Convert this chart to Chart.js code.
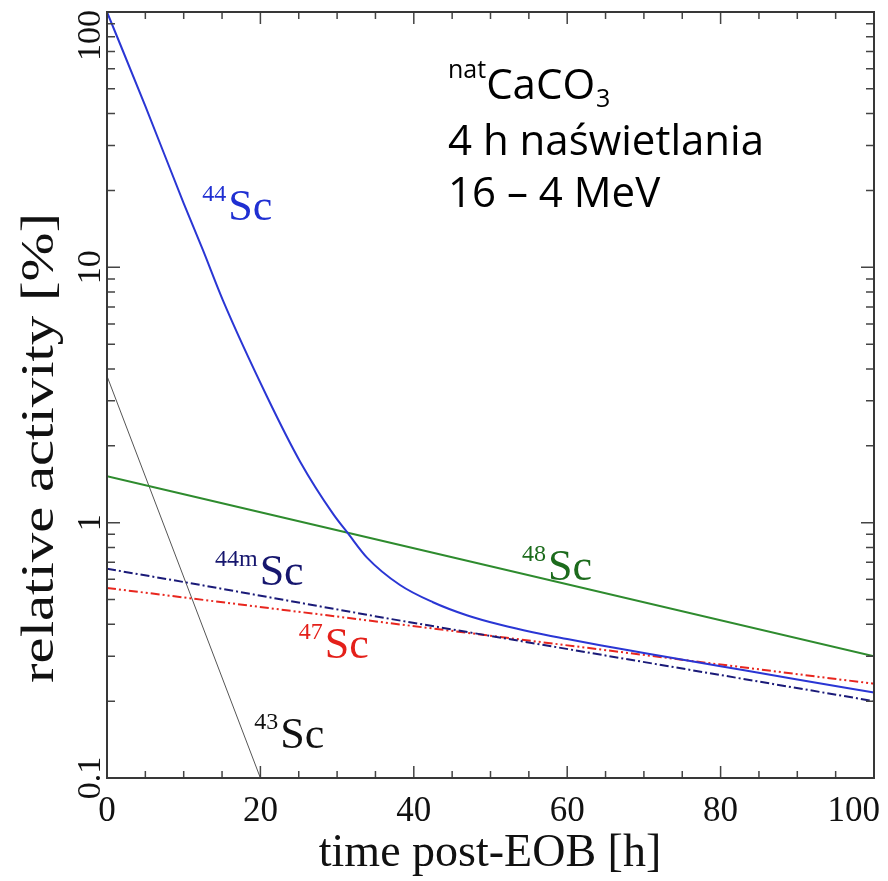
<!DOCTYPE html>
<html>
<head>
<meta charset="utf-8">
<script src="https://cdn.jsdelivr.net/npm/chart.js@4.4.1/dist/chart.umd.min.js"></script>
<style>
  html, body { margin: 0; padding: 0; background: #fff; }
  #wrap { width: 888px; height: 881px; position: relative; }
</style>
</head>
<body>
<div id="wrap"><canvas id="wykres"></canvas></div>
<script>
// czas po EOB [h] i aktywność względna [%]
const czas44 = [0, 5, 10, 12.5, 15.1, 20.9, 25.2, 29.5, 31.4, 33.9, 38.2, 42.5, 46.9, 51.3, 55.5, 60, 64.3, 70, 80, 90, 100];
const akt44 = [100, 42.8, 17.8, 11.7, 7.44, 3.1, 1.73, 1.08, 0.91, 0.73, 0.57, 0.488, 0.434, 0.398, 0.372, 0.35, 0.331, 0.309, 0.274, 0.243, 0.216];

const czas44m = [0, 10.8, 36.9, 100];
const akt44m = [0.66, 0.58, 0.42, 0.2];

const czas47 = [0, 10.8, 36.9, 100];
const akt47 = [0.555, 0.506, 0.404, 0.234];

const czas48 = [0, 12.1, 38.2, 100];
const akt48 = [1.52, 1.25, 0.817, 0.3];

const czas43 = [0, 10.8, 20];
const akt43 = [3.75, 0.53, 0.1];

const xTickWartosci = [0, 20, 40, 60, 80, 100];
const xTickEtykiety = ["0", "20", "40", "60", "80", "100"];
const yTickWartosci = [0.1, 1, 10, 100];
const yTickEtykiety = ["0.1", "1", "10", "100"];

const punkty = (xs, ys) => xs.map((t, i) => ({ x: t, y: ys[i] }));

// etykiety krzywych: izotop, kolor, pozycja "Sc" w jednostkach danych
const etykiety = [
  { sup: "44", t: 15.8, v: 15.3, kolor: "#1f2fd2" },
  { sup: "44m", t: 19.9, v: 0.569, kolor: "#16166e" },
  { sup: "47", t: 28.4, v: 0.294, kolor: "#e4201a" },
  { sup: "48", t: 57.5, v: 0.595, kolor: "#1c6b1c" },
  { sup: "43", t: 22.6, v: 0.131, kolor: "#111" },
];

const serif = "'Liberation Serif', 'Times New Roman', serif";

const dekor = {
  id: "dekor",
  afterDatasetsDraw(chart) {
    const { ctx, chartArea: a, scales: { x, y } } = chart;
    ctx.save();

    // podziałki skierowane do środka, na wszystkich bokach
    ctx.strokeStyle = "#444";
    ctx.lineWidth = 1.5;
    ctx.beginPath();
    for (let t = 0; t <= 100; t += 5) {
      const px = x.getPixelForValue(t);
      const dl = t % 20 === 0 ? 12 : 7;
      ctx.moveTo(px, a.bottom); ctx.lineTo(px, a.bottom - dl);
      ctx.moveTo(px, a.top); ctx.lineTo(px, a.top + dl);
    }
    for (let dek = 0.1; dek < 100; dek *= 10) {
      for (let m = 1; m <= 10; m++) {
        const py = y.getPixelForValue(dek * m);
        const dl = m === 1 || m === 10 ? 13 : 8;
        ctx.moveTo(a.left, py); ctx.lineTo(a.left + dl, py);
        ctx.moveTo(a.right, py); ctx.lineTo(a.right - dl, py);
      }
    }
    ctx.stroke();

    ctx.lineWidth = 2;
    ctx.strokeStyle = "#383838";
    ctx.strokeRect(a.left, a.top, a.right - a.left, a.bottom - a.top);

    // opisy osi x
    ctx.fillStyle = "#111";
    ctx.font = "35px " + serif;
    ctx.textAlign = "center";
    ctx.textBaseline = "alphabetic";
    xTickWartosci.forEach((t, i) => {
      const w = ctx.measureText(xTickEtykiety[i]).width;
      let px = x.getPixelForValue(t);
      px = Math.min(px, a.right - w / 2 + 6);
      ctx.fillText(xTickEtykiety[i], px, 821);
    });

    // opisy osi y (obrócone)
    ctx.font = "34px " + serif;
    yTickWartosci.forEach((v, i) => {
      const w = ctx.measureText(yTickEtykiety[i]).width;
      let py = y.getPixelForValue(v);
      py = Math.max(py, a.top + w / 2 - 2);
      ctx.save();
      ctx.translate(100, py);
      ctx.rotate(-Math.PI / 2);
      ctx.fillText(yTickEtykiety[i], 0, 0);
      ctx.restore();
    });

    // tytuły osi
    ctx.font = "46px " + serif;
    ctx.fillText("time post-EOB [h]", 490, 866);
    ctx.save();
    ctx.font = "47px " + serif;
    const wTyt = ctx.measureText("relative activity [%]").width;
    ctx.translate(53, 448);
    ctx.rotate(-Math.PI / 2);
    ctx.scale(470 / wTyt, 1);
    ctx.fillText("relative activity [%]", 0, 0);
    ctx.restore();

    // etykiety izotopów
    etykiety.forEach((e) => {
      const px = x.getPixelForValue(e.t);
      const py = y.getPixelForValue(e.v);
      ctx.fillStyle = e.kolor;
      ctx.textAlign = "left";
      ctx.font = "44px " + serif;
      ctx.fillText("Sc", px, py);
      ctx.textAlign = "right";
      ctx.font = "24px " + serif;
      ctx.fillText(e.sup, px - 2, py - 19);
    });

    // opis warunków naświetlania
    const sans = "'Open Sans', Lato, sans-serif";
    ctx.fillStyle = "#000";
    ctx.textAlign = "left";
    ctx.font = "25px " + sans;
    ctx.fillText("nat", 448, 78);
    const wNat = ctx.measureText("nat").width;
    ctx.font = "42px " + sans;
    ctx.fillText("CaCO", 448 + wNat, 99);
    const wCaco = ctx.measureText("CaCO").width;
    ctx.font = "25px " + sans;
    ctx.fillText("3", 448 + wNat + wCaco + 1, 107);
    ctx.font = "42px " + sans;
    ctx.fillText("4 h naświetlania", 448, 155);
    ctx.fillText("16 – 4 MeV", 448, 207);

    ctx.restore();
  },
};

new Chart(document.getElementById("wykres"), {
  type: "line",
  data: {
    datasets: [
      {
        label: "44Sc",
        data: punkty(czas44, akt44),
        borderColor: "#2a36d4",
        borderWidth: 2,
        cubicInterpolationMode: "monotone",
      },
      {
        label: "48Sc",
        data: punkty(czas48, akt48),
        borderColor: "#2e8b2e",
        borderWidth: 2,
      },
      {
        label: "44mSc",
        data: punkty(czas44m, akt44m),
        borderColor: "#1a1a78",
        borderWidth: 2,
        borderDash: [9, 3, 2, 3],
      },
      {
        label: "47Sc",
        data: punkty(czas47, akt47),
        borderColor: "#e8261e",
        borderWidth: 2,
        borderDash: [9, 3, 2, 3, 2, 3],
      },
      {
        label: "43Sc",
        data: punkty(czas43, akt43),
        borderColor: "#555",
        borderWidth: 1,
      },
    ],
  },
  options: {
    responsive: true,
    maintainAspectRatio: false,
    animation: false,
    elements: { point: { radius: 0 }, line: { tension: 0 } },
    layout: { padding: { top: 12, right: 14, left: 0, bottom: 0 } },
    plugins: { legend: { display: false }, tooltip: { enabled: false } },
    scales: {
      x: {
        type: "linear",
        min: 0,
        max: 100,
        ticks: { display: false },
        grid: { display: false },
        border: { display: false },
        afterFit: (s) => { s.height = 103; },
      },
      y: {
        type: "logarithmic",
        min: 0.1,
        max: 100,
        ticks: { display: false },
        grid: { display: false },
        border: { display: false },
        afterFit: (s) => { s.width = 107; },
      },
    },
  },
  plugins: [dekor],
});
</script>
</body>
</html>
